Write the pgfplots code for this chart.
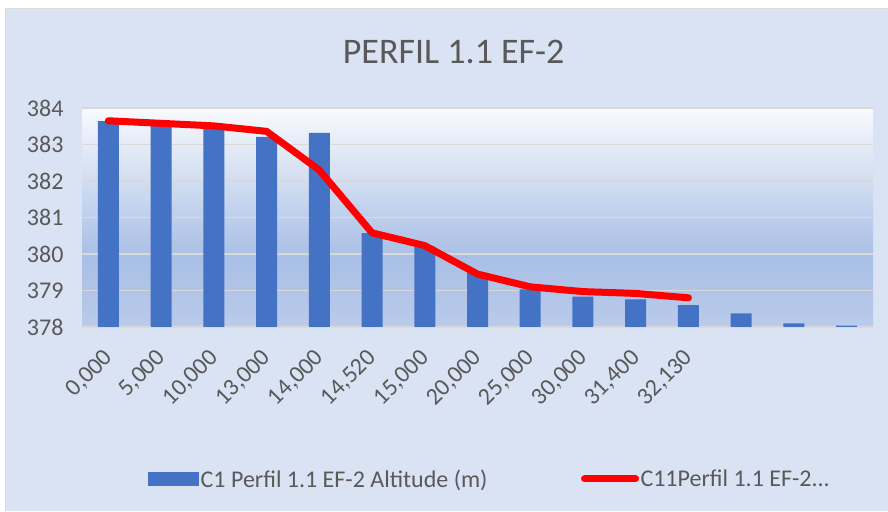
\documentclass[border=0pt]{standalone}
\usepackage{fontspec}
\setmainfont{Carlito}
\usepackage{pgfplots}
\pgfplotsset{compat=1.18}
\definecolor{txt}{HTML}{595959}
\definecolor{barblue}{HTML}{4472C4}
\definecolor{chartbg}{HTML}{DAE3F3}
\definecolor{gridc}{HTML}{D9D9D9}
\definecolor{bordc}{HTML}{D9D9D9}
\definecolor{shTop}{HTML}{F8FAFD}
\definecolor{shMid}{HTML}{A9BFE5}
\definecolor{shBot}{HTML}{BACBEA}
\pgfdeclareverticalshading{plotbg}{100bp}{color(0bp)=(shBot); color(25bp)=(shBot); color(41bp)=(shMid); color(75bp)=(shTop); color(100bp)=(shTop)}
\begin{document}
\begin{tikzpicture}[x=1pt,y=1pt]
\useasboundingbox (0,0) rectangle (888,511);
\fill[white] (0,0) rectangle (888,511);
\fill[chartbg] (5,0) rectangle (888,502);
\draw[bordc, line width=1pt] (5,0) -- (5,502) -- (888,502);
\node[txt, font=\fontsize{36}{40}\selectfont, anchor=base] at (453.7,447) {PERFIL 1.1 EF-2};
\begin{axis}[
  at={(82pt,184pt)}, anchor=south west,
  scale only axis, width=791pt, height=219pt,
  xmin=-0.5, xmax=14.5, ymin=378, ymax=384,
  ytick={378,379,...,384},
  xtick={0,1,...,11},
  xticklabels={{0,000},{5,000},{10,000},{13,000},{14,000},{14,520},{15,000},{20,000},{25,000},{30,000},{31,400},{32,130}},
  axis line style={draw=none},
  tick style={draw=none},
  ymajorgrids,
  grid style={color=gridc, line width=1.5pt},
  axis background/.style={shade, shading=plotbg},
  /pgf/number format/assume math mode=true,
  yticklabel style={font=\fontsize{24}{28}\selectfont, color=txt, xshift=-15pt},
  xticklabel style={font=\fontsize{24}{28}\selectfont, color=txt, xshift=3pt, yshift=-25pt, rotate=45, anchor=east},
  clip=true,
  legend style={at={(0.0834,-0.694)}, anchor=west, draw=none, fill=none, inner sep=0pt,
    font=\fontsize{24}{28}\selectfont, text=txt, legend columns=2,
    nodes={inner sep=1.5pt},
    /tikz/every even column/.append style={column sep=92pt}},
  legend cell align=left,
]
\addplot[ybar, bar width=21pt, fill=barblue, draw=none,
  legend image code/.code={\fill[barblue] (0pt,-7pt) rectangle (51pt,7pt);}]
  coordinates {(0,383.64) (1,383.56) (2,383.46) (3,383.21) (4,383.32) (5,380.57) (6,380.20) (7,379.48) (8,379.03) (9,378.83) (10,378.76) (11,378.60) (12,378.37) (13,378.10) (14,378.04)};
\addlegendentry{C1 Perfil 1.1 EF-2 Altitude (m)}
\addplot[color=red, line width=7pt, line cap=round, line join=round, mark=none,
  legend image code/.code={\draw[red, line width=7pt, line cap=round] (3pt,0pt) -- (54pt,0pt);}]
  coordinates {(0,383.65) (1,383.58) (2,383.51) (3,383.36) (4,382.30) (5,380.58) (6,380.23) (7,379.45) (8,379.10) (9,378.97) (10,378.92) (11,378.80)};
\addlegendentry{C11Perfil 1.1 EF-2...}
\end{axis}
\end{tikzpicture}
\end{document}
